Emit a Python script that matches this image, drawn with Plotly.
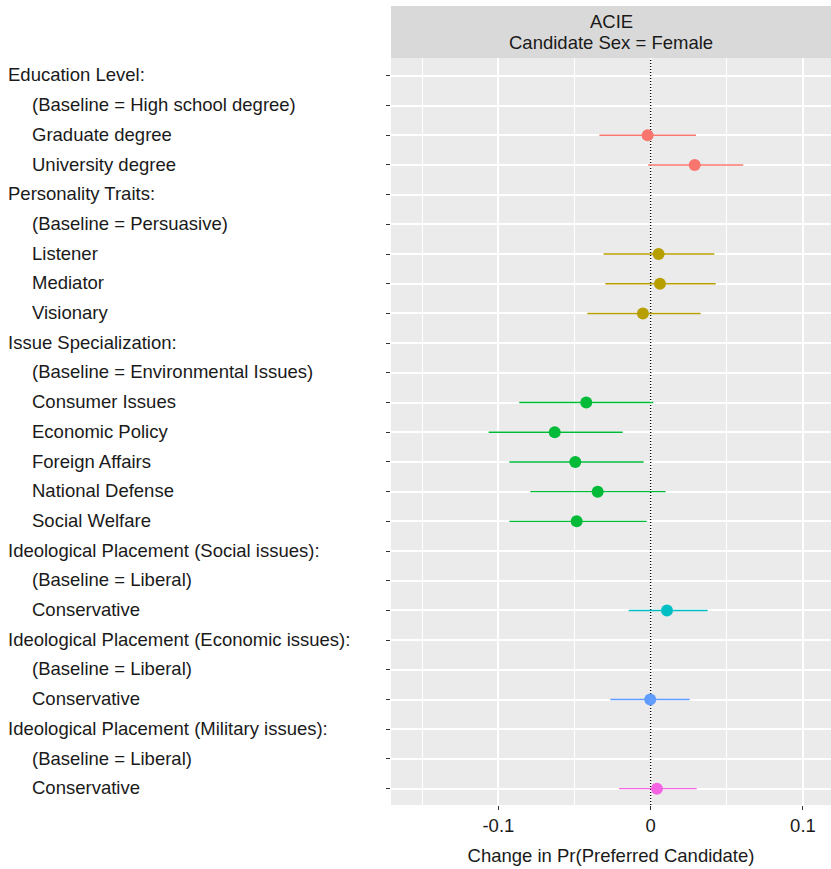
import plotly.graph_objects as go

# Row labels, top to bottom
labels = [
    "Education Level:",
    "(Baseline = High school degree)",
    "Graduate degree",
    "University degree",
    "Personality Traits:",
    "(Baseline = Persuasive)",
    "Listener",
    "Mediator",
    "Visionary",
    "Issue Specialization:",
    "(Baseline = Environmental Issues)",
    "Consumer Issues",
    "Economic Policy",
    "Foreign Affairs",
    "National Defense",
    "Social Welfare",
    "Ideological Placement (Social issues):",
    "(Baseline = Liberal)",
    "Conservative",
    "Ideological Placement (Economic issues):",
    "(Baseline = Liberal)",
    "Conservative",
    "Ideological Placement (Military issues):",
    "(Baseline = Liberal)",
    "Conservative",
]
header_rows = [0, 4, 9, 16, 19, 22]
strip_lines = ["ACIE", "Candidate Sex = Female"]

# Estimates and 95% intervals, per attribute
edu_rows = [2, 3]
edu_est = [-0.0020, 0.0289]
edu_lo = [-0.0337, -0.0016]
edu_hi = [0.0297, 0.0608]

pers_rows = [6, 7, 8]
pers_est = [0.0052, 0.0061, -0.0051]
pers_lo = [-0.0309, -0.0298, -0.0416]
pers_hi = [0.0418, 0.0427, 0.0328]

issue_rows = [11, 12, 13, 14, 15]
issue_est = [-0.0423, -0.0630, -0.0495, -0.0348, -0.0486]
issue_lo = [-0.0863, -0.1064, -0.0928, -0.0790, -0.0928]
issue_hi = [0.0017, -0.0184, -0.0046, 0.0098, -0.0026]

soc_rows = [18]
soc_est = [0.0107]
soc_lo = [-0.0144]
soc_hi = [0.0374]

econ_rows = [21]
econ_est = [-0.0003]
econ_lo = [-0.0265]
econ_hi = [0.0256]

mil_rows = [24]
mil_est = [0.0041]
mil_lo = [-0.0208]
mil_hi = [0.0302]

groups = [
    (edu_rows, edu_est, edu_lo, edu_hi, "#F8766D"),
    (pers_rows, pers_est, pers_lo, pers_hi, "#B79F00"),
    (issue_rows, issue_est, issue_lo, issue_hi, "#00BA38"),
    (soc_rows, soc_est, soc_lo, soc_hi, "#00BFC4"),
    (econ_rows, econ_est, econ_lo, econ_hi, "#619CFF"),
    (mil_rows, mil_est, mil_lo, mil_hi, "#F564E3"),
]

FONT = "Liberation Sans, Arial, Helvetica, sans-serif"
TXT = "#1a1a1a"
FS = 18.5
W, H = 831, 869
ML, MR, MT, MB = 391, 0, 58, 64
PW = W - ML - MR
PH = H - MT - MB
Y_LO, Y_HI = 24.55, -0.6

fig = go.Figure()

# zero reference line (dotted), drawn beneath the estimates
fig.add_trace(go.Scatter(
    x=[0, 0], y=[Y_LO, Y_HI], mode="lines",
    line=dict(color="black", width=1.4, dash="1px,2px"),
    showlegend=False, hoverinfo="skip",
))

for rows, est, lo, hi, col in groups:
    fig.add_trace(go.Scatter(
        x=est, y=rows, mode="markers",
        marker=dict(color=col, size=12, line=dict(width=0)),
        error_x=dict(type="data", symmetric=False,
                     array=[h - e for h, e in zip(hi, est)],
                     arrayminus=[e - l for e, l in zip(est, lo)],
                     color=col, thickness=1.4, width=0),
        showlegend=False, hoverinfo="skip",
    ))

# facet strip
strip_top = 1 + (MT - 6) / PH
fig.add_shape(type="rect", xref="paper", yref="paper", x0=0, x1=1, y0=1, y1=strip_top,
              fillcolor="#D9D9D9", line=dict(width=0), layer="above")
for py, txt in zip([21, 43], strip_lines):
    fig.add_annotation(xref="paper", yref="paper", x=0.5, y=1 + (MT - py) / PH,
                       text=txt, showarrow=False,
                       font=dict(family=FONT, size=FS, color=TXT),
                       xanchor="center", yanchor="middle")

# row labels, left aligned, with sub-items indented
for i, lab in enumerate(labels):
    px = 6 if i in header_rows else 30
    fig.add_annotation(xref="paper", yref="y", x=(px - ML) / PW, y=i - 0.03,
                       text=lab, showarrow=False, xanchor="left", yanchor="middle",
                       font=dict(family=FONT, size=FS, color=TXT))

fig.update_xaxes(
    range=[-0.1705, 0.1184], tickvals=[-0.1, 0, 0.1], ticktext=["-0.1", "0", "0.1"],
    showgrid=True, gridcolor="white", gridwidth=1.6, zeroline=False,
    minor=dict(tickvals=[-0.15, -0.05, 0.05], showgrid=True, gridcolor="white", gridwidth=1.0),
    ticks="outside", ticklen=4, tickcolor="#333333", tickwidth=1,
    tickfont=dict(family=FONT, size=FS, color=TXT),
    title=dict(text="Change in Pr(Preferred Candidate)", standoff=13,
               font=dict(family=FONT, size=FS, color=TXT)),
    showline=False,
)
fig.update_yaxes(
    range=[Y_LO, Y_HI], tickvals=list(range(len(labels))), showticklabels=False,
    showgrid=True, gridcolor="white", gridwidth=1.6, zeroline=False,
    ticks="outside", ticklen=4, tickcolor="#333333", tickwidth=1,
    showline=False,
)

fig.update_layout(
    width=W, height=H,
    margin=dict(l=ML, r=MR, t=MT, b=MB, pad=0),
    plot_bgcolor="#EBEBEB", paper_bgcolor="white",
    font=dict(family=FONT, size=FS, color=TXT),
)

fig.write_html("out.html")
